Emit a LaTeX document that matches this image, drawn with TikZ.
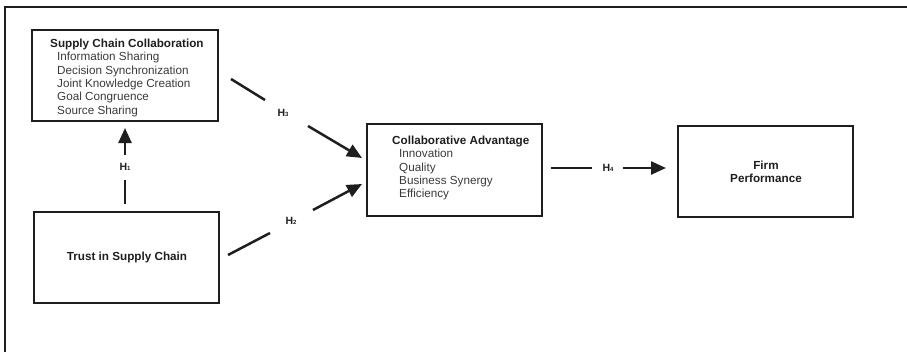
\documentclass[tikz,border=0pt]{standalone}
\usepackage{fontspec}
\setmainfont{Liberation Sans}
\usetikzlibrary{arrows.meta}
\definecolor{ink}{HTML}{1E1E1E}
\definecolor{itemc}{HTML}{3A3A3A}
\newcommand\hsubdigit[1]{\raisebox{-0.6pt}{\fontsize{6}{6}\selectfont #1}}
\begin{document}
\begin{tikzpicture}[x=1pt,y=-1pt,
  box/.style={draw=ink,line width=1.3pt,rectangle,inner sep=0pt},
  conn/.style={draw=ink,line width=2.5pt},
  arr/.style={conn,-{Triangle[length=15pt,width=13pt]}},
  hlab/.style={font=\fontsize{10.5}{12}\selectfont\bfseries,text=ink,inner sep=0pt},
  btext/.style={font=\fontsize{11.7}{13.3}\selectfont,text=itemc,align=left,inner sep=0pt,anchor=north west},
  ctext/.style={font=\fontsize{11.7}{13.3}\selectfont\bfseries,text=ink,align=center,inner sep=0pt},
]
\useasboundingbox (0,0) rectangle (907,351);
\draw[ink,line width=2.6pt] (5,352) -- (5,7) -- (908,7);

% boxes
\node[box,minimum width=186pt,minimum height=91pt] (scc) at (125,75.5) {};
\node[box,minimum width=185pt,minimum height=91pt] (trust) at (126.5,257.5) {};
\node[box,minimum width=175pt,minimum height=92pt] (ca) at (454.5,170) {};
\node[box,minimum width=175pt,minimum height=91pt] (fp) at (765.5,171.5) {};

% texts
\node[btext] (scctext) at (50,39) {\textbf{\color{ink}Supply Chain Collaboration}\\
\hspace*{7pt}Information Sharing\\
\hspace*{7pt}Decision Synchronization\\
\hspace*{7pt}Joint Knowledge Creation\\
\hspace*{7pt}Goal Congruence\\
\hspace*{7pt}Source Sharing};
\node[btext] (catext) at (392,136) {\textbf{\color{ink}Collaborative Advantage}\\
\hspace*{7pt}Innovation\\
\hspace*{7pt}Quality\\
\hspace*{7pt}Business Synergy\\
\hspace*{7pt}Efficiency};
\node[ctext] (fptext) at (766,172) {Firm\\Performance};
\node[ctext] (trusttext) at (127,257) {Trust in Supply Chain};

% hypothesis labels
\node[hlab] (h1) at (125,167) {H\hsubdigit{1}};
\node[hlab] (h3) at (283,113) {H\hsubdigit{3}};
\node[hlab] (h2) at (291,221) {H\hsubdigit{2}};
\node[hlab] (h4) at (608,168) {H\hsubdigit{4}};

% connector end points
\coordinate (h1a) at (125,204);
\coordinate (h1b) at (125,180);
\coordinate (h1c) at (125,155);
\coordinate (h1d) at (125,128);
\coordinate (h3a) at (231,79);
\coordinate (h3b) at (265,100);
\coordinate (h3c) at (308,126);
\coordinate (h3d) at (362,158);
\coordinate (h2a) at (228,255);
\coordinate (h2b) at (270,233);
\coordinate (h2c) at (313,210);
\coordinate (h2d) at (362,184);
\coordinate (h4a) at (551,168);
\coordinate (h4b) at (592,168);
\coordinate (h4c) at (623,168);
\coordinate (h4d) at (666,168);

\draw[conn] (h1a) -- (h1b);
\draw[arr] (h1c) -- (h1d);
\draw[conn] (h3a) -- (h3b);
\draw[arr] (h3c) -- (h3d);
\draw[conn] (h2a) -- (h2b);
\draw[arr] (h2c) -- (h2d);
\draw[conn] (h4a) -- (h4b);
\draw[arr] (h4c) -- (h4d);
\end{tikzpicture}
\end{document}
